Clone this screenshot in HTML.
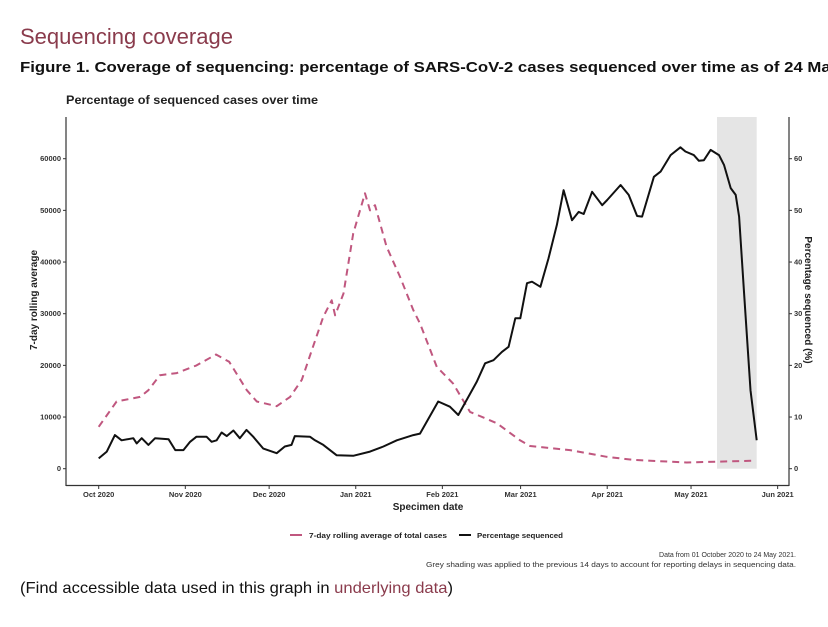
<!DOCTYPE html>
<html><head><meta charset="utf-8"><style>
body{margin:0;background:#fff;width:828px;height:627px;overflow:hidden}
svg{display:block;font-family:"Liberation Sans Narrow","Liberation Sans",sans-serif}
</style></head><body>
<svg id="chart" width="828" height="627" viewBox="0 0 828 627">
<text x="20" y="44" font-size="22" fill="#8a3b4c" font-family="Liberation Sans,sans-serif" textLength="213" lengthAdjust="spacingAndGlyphs">Sequencing coverage</text>
<text x="20" y="72" font-size="15" font-weight="bold" fill="#111" textLength="820" lengthAdjust="spacingAndGlyphs">Figure 1. Coverage of sequencing: percentage of SARS-CoV-2 cases sequenced over time as of 24 May</text>
<text x="66" y="104" font-size="12" font-weight="bold" fill="#222" textLength="252" lengthAdjust="spacingAndGlyphs">Percentage of sequenced cases over time</text>
<rect id="shade" fill="#e5e5e5"/>
<g id="axes"></g>
<g id="series"></g>
<text x="428" y="510" font-size="10" font-weight="bold" text-anchor="middle" fill="#222">Specimen date</text>
<text transform="translate(37,300) rotate(-90)" font-size="10" font-weight="bold" text-anchor="middle" fill="#222">7-day rolling average</text>
<text transform="translate(805,300) rotate(90)" font-size="10" font-weight="bold" text-anchor="middle" fill="#222">Percentage sequenced (%)</text>
<g>
<line x1="290" y1="535" x2="302" y2="535" stroke="#c0577f" stroke-width="2"/>
<text x="309" y="538" font-size="7.5" font-weight="bold" fill="#222" textLength="138" lengthAdjust="spacingAndGlyphs">7-day rolling average of total cases</text>
<line x1="459" y1="535" x2="471" y2="535" stroke="#111" stroke-width="2"/>
<text x="477" y="538" font-size="7.5" font-weight="bold" fill="#222" textLength="86" lengthAdjust="spacingAndGlyphs">Percentage sequenced</text>
</g>
<text x="796" y="557" font-size="7" text-anchor="end" fill="#333">Data from 01 October 2020 to 24 May 2021.</text>
<text x="796" y="567" font-size="7" text-anchor="end" fill="#333" textLength="370" lengthAdjust="spacingAndGlyphs">Grey shading was applied to the previous 14 days to account for reporting delays in sequencing data.</text>
<text x="20" y="593" font-size="16" fill="#111" font-family="Liberation Sans,sans-serif" textLength="433" lengthAdjust="spacingAndGlyphs">(Find accessible data used in this graph in <tspan fill="#8a3b4c">underlying data</tspan>)</text>
</svg>
<script>
const xTickLabels=["Oct 2020","Nov 2020","Dec 2020","Jan 2021","Feb 2021","Mar 2021","Apr 2021","May 2021","Jun 2021"];
const xTickDays=[0,31,61,92,123,151,182,212,243];
const leftTicks=[0,10000,20000,30000,40000,50000,60000];
const rightTicks=[0,10,20,30,40,50,60];
const shadeDays=[221.3,235.5];
const caseDays=[0,6.4,14.8,17.8,21.9,27.9,35,42,46.7,53,56.6,63.7,68.5,72.7,76.3,80.4,83.4,84.6,87.6,91.1,95.3,97.1,98.9,103,107.8,112.6,115,121,126.8,132.9,142.5,150.8,154.4,168.7,181.8,191.3,210.4,221,234.9];
const caseValues=[8100,13000,13900,15200,18100,18500,20000,22100,20700,15200,13000,12100,13900,17200,23000,29400,32600,29700,33900,45500,53300,50000,51000,43000,37200,30700,28100,19700,16500,11000,8800,5500,4400,3600,2300,1700,1200,1350,1550];
const pctDays=[0,2.9,5.8,8.2,12.4,13.6,15.4,17.8,20.2,25,27.4,30.3,32.7,35,38.6,40.4,42.2,44,45.8,48.2,50.5,52.9,55.3,58.9,63.7,66.6,69,70.2,75.6,77.4,80.4,85.2,91.1,97.1,101.9,106.7,112.6,115,121.5,125.7,128.7,135.3,138.3,141.3,144.3,146.7,149.1,150.9,153.3,155.1,158.1,161,164,166.4,169.4,171.8,173.6,176.6,180.2,182,186.8,189.7,192.7,194.5,198.7,201.1,204.7,208.2,210,213,214.8,216.6,219,222,223.8,226.2,228,229.2,231,233.3,235.5];
const pctValues=[2.0,3.3,6.5,5.5,5.9,4.9,5.9,4.6,5.9,5.7,3.6,3.6,5.2,6.2,6.2,5.2,5.5,7.0,6.3,7.4,5.9,7.5,6.2,3.9,3.0,4.3,4.6,6.3,6.2,5.5,4.6,2.6,2.5,3.3,4.3,5.5,6.5,6.8,13,12,10.4,16.8,20.4,21,22.6,23.6,29.1,29.1,35.9,36.2,35.2,40.7,47.2,53.9,48.1,49.7,49.3,53.6,51,52,54.9,53,48.9,48.8,56.5,57.5,60.7,62.2,61.4,60.7,59.6,59.7,61.7,60.7,58.8,54.3,53,48.8,33.9,15.2,5.5];

const X0=98.7,PXD=2.794,Y0=468.7,PPU=310/60000,PPP=310/60;
const xs=d=>X0+d*PXD, yl=v=>Y0-v*PPU, yr=v=>Y0-v*PPP;
const NS="http://www.w3.org/2000/svg";
function mk(tag,attrs,parent){const e=document.createElementNS(NS,tag);for(const k in attrs)e.setAttribute(k,attrs[k]);parent.appendChild(e);return e;}
const axes=document.getElementById('axes'),series=document.getElementById('series');
const sh=document.getElementById('shade');
sh.setAttribute('x',xs(shadeDays[0]));sh.setAttribute('width',xs(shadeDays[1])-xs(shadeDays[0]));
sh.setAttribute('y',117);sh.setAttribute('height',Y0-117);
let e;
e=mk('line',{x1:66,y1:117,x2:66,y2:486,stroke:'#333','stroke-width':1.2},axes);


e=mk('line',{x1:789,y1:117,x2:789,y2:486,stroke:'#333','stroke-width':1.2},axes);


e=mk('line',{x1:66,y1:485.5,x2:789,y2:485.5,stroke:'#333','stroke-width':1.2},axes);


leftTicks.forEach(v=>{const y=yl(v);
 e=mk('line',{x1:63,y1:y,x2:66,y2:y,stroke:'#333'},axes);
 
 
 e=mk('text',{x:61,y:y+2.5,'font-size':7.5,'font-weight':'bold','text-anchor':'end',fill:'#333'},axes);e.textContent=v;
 
 });
rightTicks.forEach(v=>{const y=yr(v);
 e=mk('line',{x1:789,y1:y,x2:792,y2:y,stroke:'#333'},axes);
 
 
 e=mk('text',{x:794,y:y+2.5,'font-size':7.5,'font-weight':'bold',fill:'#333'},axes);e.textContent=v;
 
 });
xTickDays.forEach((d,i)=>{const x=xs(d);
 e=mk('line',{x1:x,y1:486,x2:x,y2:489,stroke:'#333'},axes);
 
 
 e=mk('text',{x:x,y:497,'font-size':7.5,'font-weight':'bold','text-anchor':'middle',fill:'#333'},axes);e.textContent=xTickLabels[i];
 
 });
function pts(ds,vs,f){return ds.map((d,i)=>xs(d).toFixed(1)+','+f(vs[i]).toFixed(1)).join(' ');}
e=mk('polyline',{points:pts(caseDays,caseValues,yl),fill:'none',stroke:'#c0577f','stroke-width':2,'stroke-dasharray':'7 5','stroke-linejoin':'round'},series);


e=mk('polyline',{points:pts(pctDays,pctValues,yr),fill:'none',stroke:'#111','stroke-width':2,'stroke-linejoin':'round'},series);


</script>
</body></html>
